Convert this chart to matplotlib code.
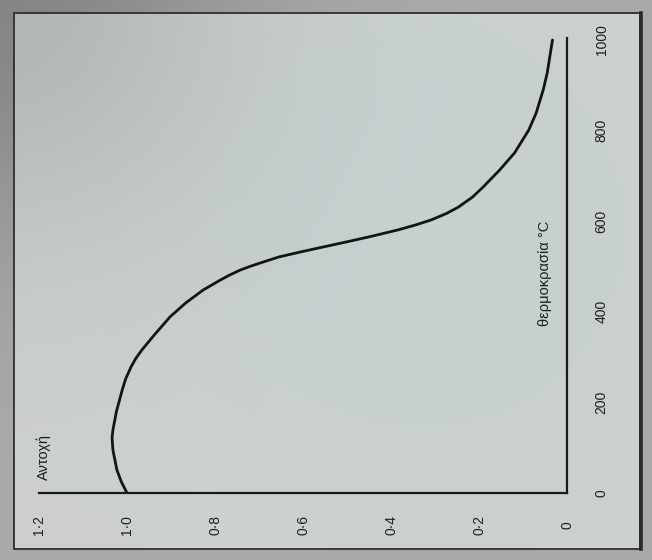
import numpy as np
import matplotlib
matplotlib.use("Agg")
import matplotlib.pyplot as plt
from matplotlib.patches import Rectangle

plt.rcParams['font.family'] = ['Liberation Sans', 'DejaVu Sans']

# ---- data ----
temperature = [0, 25, 51, 95, 122, 139, 180, 227, 252, 278, 297, 316, 350, 389,
               420, 448, 470, 481, 492, 501, 510, 521, 532, 545, 556, 566, 581,
               592, 603, 617, 631, 653, 675, 713, 751, 801, 839, 890, 927, 1000]
strength = [1.00, 1.013, 1.023, 1.032, 1.034, 1.032, 1.024, 1.011, 1.003, 0.991,
            0.980, 0.966, 0.937, 0.902, 0.866, 0.827, 0.788, 0.767, 0.743, 0.718,
            0.69, 0.655, 0.606, 0.545, 0.493, 0.447, 0.383, 0.343, 0.308, 0.274,
            0.247, 0.215, 0.191, 0.153, 0.119, 0.087, 0.070, 0.054, 0.045, 0.033]
strength_ticks = [0, 0.2, 0.4, 0.6, 0.8, 1.0, 1.2]
strength_labels = ['0', '0·2', '0·4', '0·6', '0·8', '1·0', '1·2']
temp_ticks = [0, 200, 400, 600, 800, 1000]
temp_labels = ['0', '200', '400', '600', '800', '1000']
strength_label = 'Αντοχή'
temp_label = 'θερμοκρασία °C'

W, H = 652, 560
fig = plt.figure(figsize=(W / 100, H / 100), dpi=100)

# ---- photo-like background ----
bg = fig.add_axes([0, 0, 1, 1])
bg.axis('off')
yy, xx = np.mgrid[0:H, 0:W].astype(float)
inside = (xx >= 14) & (xx <= 640) & (yy >= 13) & (yy <= 549)
img = np.zeros((H, W, 3))
vign = 26 * np.exp(-((xx) ** 2 + (yy) ** 2) / (2 * 170.0 ** 2))
tint = np.exp(-((xx - 430) ** 2 / (2 * 200.0 ** 2) + (yy - 230) ** 2 / (2 * 200.0 ** 2)))
base_in = np.array([206, 208, 208.0])
img[..., 0] = base_in[0] - vign - 8 * tint
img[..., 1] = base_in[1] - vign + 1 * tint
img[..., 2] = base_in[2] - vign + 0 * tint
out_col = np.array([170, 170, 170.0])
for c in range(3):
    o = out_col[c] - 1.4 * vign
    img[..., c] = np.where(inside, img[..., c], o)
img = np.clip(img / 255.0, 0, 1)
bg.imshow(img, extent=(0, W, H, 0), aspect='auto', interpolation='bilinear')
bg.set_xlim(0, W)
bg.set_ylim(H, 0)
bg.add_patch(Rectangle((14, 13), 626, 536, fill=False, lw=1.3, ec='#2e2e2e'))
bg.plot([640.5, 640.5], [13, 549], color='#2a2a2a', lw=2.6)

# ---- chart (rotated 90° counter-clockwise as in the photo) ----
ax = fig.add_axes([39 / W, 67 / H, 528 / W, 455.3 / H])
ax.patch.set_alpha(0)
ax.plot(strength, temperature, color='#141414', lw=2.0, solid_capstyle='round',
        solid_joinstyle='round')
ax.set_xlim(1.2, 0)
ax.set_ylim(0, 1005)
for s in ['top', 'left']:
    ax.spines[s].set_visible(False)
for s in ['bottom', 'right']:
    ax.spines[s].set_linewidth(1.6)
    ax.spines[s].set_color('#1a1a1a')

ax.set_xticks(strength_ticks)
ax.set_xticklabels(strength_labels, rotation=90, va='center', ha='center',
                   fontsize=10, color='#1e1e1e')
ax.tick_params(axis='x', which='major', length=0, pad=23)
ax.set_xticks([1.2], minor=True)
ax.tick_params(axis='x', which='minor', direction='in', length=9, width=1.6,
               color='#1a1a1a')

ax.yaxis.tick_right()
ax.set_yticks(temp_ticks)
ax.set_yticklabels(temp_labels, rotation=90, va='center', ha='center',
                   fontsize=10, color='#1e1e1e')
ax.tick_params(axis='y', length=0, pad=25)

fig.text(44 / W, 1 - 457 / H, strength_label, rotation=90, ha='center',
         va='center', fontsize=10.5, color='#1e1e1e')
fig.text(545 / W, 1 - 273 / H, temp_label, rotation=90, ha='center',
         va='center', fontsize=10.5, color='#1e1e1e')

fig.savefig('out.png', dpi=100)
